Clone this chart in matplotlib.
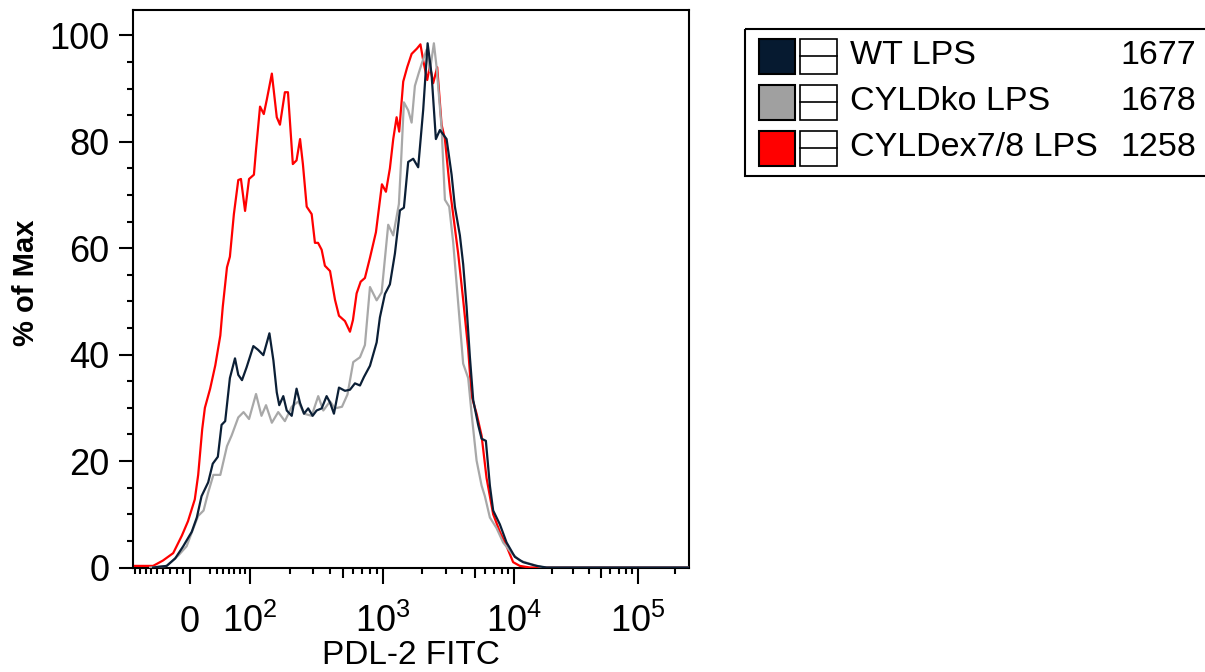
import numpy as np
import matplotlib
matplotlib.use('Agg')
import matplotlib.pyplot as plt
from matplotlib.patches import Rectangle

plt.rcParams['font.family'] = ['Liberation Sans', 'DejaVu Sans']
plt.rcParams['mathtext.fontset'] = 'custom'
plt.rcParams['mathtext.rm'] = 'Liberation Sans'
plt.rcParams['mathtext.it'] = 'Liberation Sans'

# histogram traces (PDL-2 FITC intensity, % of max)
red_x = [-90, -57, -41, -25, -12, -3, 7, 12, 18, 22, 30, 38, 46, 50, 57, 62, 69, 77, 82, 90,
         98, 107, 111, 119, 127, 134, 146, 159, 168, 183, 193, 210, 224, 238, 250, 267, 291,
         308, 325, 346, 366, 400, 436, 467, 518, 565, 595, 634, 680, 732, 799, 886, 983, 1054,
         1130, 1198, 1271, 1330, 1427, 1530, 1653, 1814, 1929, 2025, 2173, 2278, 2413, 2588,
         2795, 2962, 3232, 3528, 3737, 4079, 4454, 4727, 5159, 5631, 6146, 6900, 7759, 8724,
         9790, 11080, 13350, 260000]
red_y = [0.3, 0.3, 1.3, 2.7, 6, 8.7, 12.8, 17.4, 26, 30, 33.6, 38, 43.6, 49, 56.4, 58.4, 66.4,
         72.8, 73, 67, 73, 73.8, 78.5, 86.6, 85.2, 88, 92.8, 84.6, 83.2, 89.3, 89.3, 75.8, 76.5,
         80.5, 75.8, 67.8, 66.4, 61, 61, 59.7, 56.7, 55.7, 50.3, 47.3, 46.3, 44.3, 46.5, 51.5,
         53.7, 54.4, 58.2, 63, 72, 70.6, 75, 80.5, 84.6, 81.9, 91.3, 94, 96.5, 97.5, 98.3, 95.3,
         91.6, 94.3, 91, 94, 83.2, 80.5, 71.1, 63.8, 59, 50.3, 41, 32.2, 28.9, 24.8, 16.8, 10,
         6.7, 4, 1, 0.3, 0, 0]

ko_x = [-62, -35, -17, -5, 5, 12, 20, 27, 35, 46, 57, 65, 77, 87, 98, 111, 122, 132, 146, 163,
        183, 206, 231, 255, 291, 326, 356, 400, 436, 492, 541, 598, 672, 732, 799, 897, 978,
        1097, 1198, 1323, 1382, 1444, 1557, 1653, 1751, 1878, 1969, 2149, 2278, 2442, 2561,
        2795, 2962, 3193, 3424, 3737, 4079, 4454, 4727, 5159, 5631, 5966, 6512, 7320, 8219,
        9520, 11080, 13350, 17110, 260000]
ko_y = [0, 0.3, 2.3, 4, 7.4, 9.7, 10.7, 14.1, 17.4, 17.4, 22.8, 24.8, 28.2, 29.2, 27.9, 32.6,
        28.5, 30.5, 27.2, 29.2, 27.5, 30.2, 31.2, 28.9, 28.5, 32.2, 29.5, 31.2, 29.9, 30.2, 32.5,
        38.6, 39.5, 41.8, 52.7, 50.2, 51.7, 64.4, 62.4, 68.3, 77.5, 87.4, 85.9, 83.6, 90.5, 93,
        94.6, 97.3, 93.3, 98.5, 94, 82.6, 69.1, 67.8, 61.1, 49.7, 38.3, 35.6, 28.9, 20.1, 15.4,
        13.4, 9.4, 7.4, 4.7, 2.7, 1.3, 0.7, 0, 0]

wt_x = [-57, -35, -22, -10, 2.5, 10, 17, 27, 34, 42, 48, 54, 62, 71, 77, 84, 93, 106, 115, 126,
        140, 150, 159, 166, 178, 189, 206, 224, 238, 255, 274, 296, 317, 346, 377, 400, 428, 467,
        518, 565, 616, 672, 720, 799, 897, 949, 1036, 1130, 1234, 1347, 1444, 1557, 1700, 1855,
        2025, 2188, 2346, 2529, 2714, 3051, 3331, 3528, 3851, 4079, 4330, 4587, 4861, 5305,
        5631, 6071, 6512, 6900, 7759, 8724, 10090, 11780, 15120, 18230, 260000]
wt_y = [0, 0.3, 1.7, 4, 6.7, 9.4, 13.4, 16, 19.5, 20.8, 26.8, 27.5, 35.6, 39.3, 36.2, 35.2,
        37.6, 41.6, 40.9, 39.9, 44, 38.9, 32.9, 30.5, 32.2, 29.5, 28.5, 33.6, 30.9, 28.9, 29.9,
        28.5, 29.5, 29.9, 32.2, 31, 28.9, 33.8, 33.2, 33.4, 34.6, 34.2, 35.8, 37.9, 42.3, 47,
        51.4, 53.2, 59, 67.1, 67.6, 76.2, 76.8, 75.2, 86, 98.5, 92.6, 80.5, 82.2, 80.5, 73.8,
        67.8, 62.4, 57, 49, 39.6, 31.5, 26.8, 24.2, 23.8, 15.4, 10.7, 8.1, 4.7, 2, 1, 0.3, 0, 0]

names = ['WT LPS', 'CYLDko LPS', 'CYLDex7/8 LPS']
counts = ['1677', '1678', '1258']
swatch_colors = ['#061a30', '#a0a0a0', '#ff0000']
line_colors = ['#0b1f36', '#a8a8a8', '#ff0000']

# biexponential-like display axis (linear around 0, log above 100)
dec = [2, 3, 4, 5, 6]
dpx = [250, 383, 514.5, 638, 761.5]
k = 60 / np.arcsinh(1)

def fwd(x):
    x = np.asarray(x, dtype=float)
    lo = 190 + k * np.arcsinh(x / 100)
    hi = np.interp(np.log10(np.maximum(x, 100)), dec, dpx)
    return np.where(x < 100, lo, hi)

def inv(p):
    p = np.asarray(p, dtype=float)
    lo = 100 * np.sinh((p - 190) / k)
    hi = 10 ** np.interp(np.maximum(p, 250), dpx, dec)
    return np.where(p < 250, lo, hi)

W, H = 1205, 672
fig = plt.figure(figsize=(W / 100, H / 100), dpi=100)
ax = fig.add_axes([133 / W, 1 - 567.5 / H, 556 / W, 557.5 / H])
ax.set_xscale('function', functions=(fwd, inv))
xlim = (-94, 2.6e5)

ax.plot(red_x, red_y, color=line_colors[2], lw=1.6, zorder=3)
ax.plot(ko_x, ko_y, color=line_colors[1], lw=1.6, zorder=4)
ax.plot(wt_x, wt_y, color=line_colors[0], lw=1.6, zorder=5)

ax.set_xlim(*xlim)
ax.set_ylim(0, 104.75)
for s in ax.spines.values():
    s.set_linewidth(1.5)

major = [0, 1e2, 1e3, 1e4, 1e5]
ax.set_xticks(major)
ax.set_xticklabels(['0', '$10^2$', '$10^3$', '$10^4$', '$10^5$'])
minor = list(range(-90, 0, 10)) + list(range(30, 100, 10))
for d in [100, 1000, 10000, 100000]:
    minor += [m * d for m in (2, 3, 4, 6, 7, 8, 9) if m * d < xlim[1]]
ax.set_xticks(minor, minor=True)
ax.tick_params(axis='x', which='major', length=11.5, width=1.5, labelsize=26, pad=35)
ax.tick_params(axis='x', which='minor', length=4.5, width=1.5)
for lab in ax.get_xticklabels():
    lab.set_va('baseline')

# medium ticks at 5 x 10^n
ax2 = ax.twiny()
ax2.set_xscale('function', functions=(fwd, inv))
ax2.set_xlim(*xlim)
ax2.xaxis.set_ticks_position('bottom')
ax2.set_xticks([500, 5000, 50000])
ax2.tick_params(axis='x', length=7.5, width=1.5, labelbottom=False, labeltop=False)
for s in ax2.spines.values():
    s.set_visible(False)

ax.set_yticks(range(0, 101, 20))
ax.set_yticks(range(0, 101, 5), minor=True)
ax.tick_params(axis='y', which='major', length=10, width=1.5, labelsize=26, pad=7)
ax.tick_params(axis='y', which='minor', length=4.5, width=1.5)

ax.set_xlabel('PDL-2 FITC', fontsize=24, va='baseline')
ax.xaxis.set_label_coords(0.5, -0.173)
ax.set_ylabel('% of Max', fontsize=21, fontweight='bold')
ax.yaxis.set_label_coords(-0.168, 0.51)

# legend box, drawn in pixel units
lg = fig.add_axes([745 / W, 1 - 176 / H, 480 / W, 147 / H])
lg.set_xlim(0, 480)
lg.set_ylim(147, 0)
lg.axis('off')
lg.add_patch(Rectangle((0, 0), 480, 147, fill=False, lw=1.5, ec='black', clip_on=False))
for i, (nm, ct, sc) in enumerate(zip(names, counts, swatch_colors)):
    yc = 27 + 46 * i
    lg.add_patch(Rectangle((14, yc - 17.5), 36, 35, fc=sc, ec='black', lw=1.5))
    lg.add_patch(Rectangle((55, yc - 17.5), 37, 35, fc='white', ec='black', lw=1.2))
    lg.plot([55, 92], [yc, yc], color='black', lw=1.2)
    lg.text(105, yc, nm, fontsize=24.5, va='center', ha='left')
    lg.text(451, yc, ct, fontsize=24.5, va='center', ha='right')

fig.savefig('out.png', dpi=100)
